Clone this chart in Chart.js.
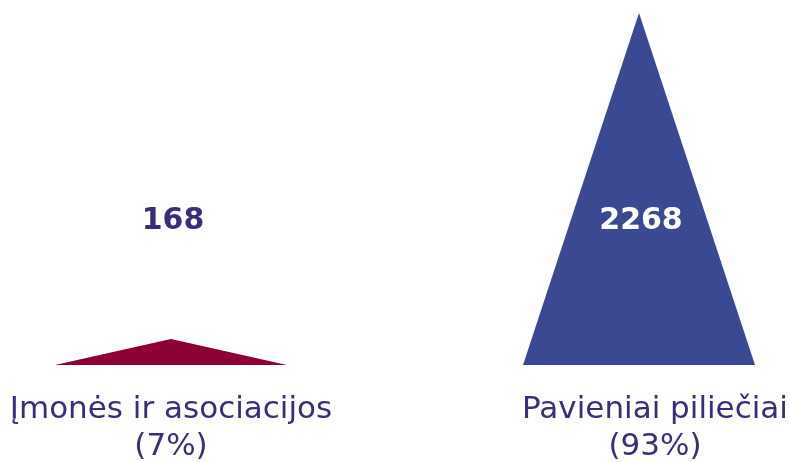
<!DOCTYPE html>
<html>
<head>
<meta charset="utf-8">
<script src="https://cdn.jsdelivr.net/npm/chart.js@4/dist/chart.umd.min.js"></script>
<style>
  html, body { margin: 0; padding: 0; background: #fff; }
  #wrap { width: 790px; height: 462px; }
</style>
</head>
<body>
<div id="wrap"><canvas id="pyramid"></canvas></div>
<script>
const categories = ['Įmonės ir asociacijos', 'Pavieniai piliečiai']
const shares = ['(7%)', '(93%)']
const counts = [168, 2268]

const fillColors = ['#8c0034', '#3b4993']
const textColor = '#3a2e7c'

// draws every bar as a triangle, using the bar element's own geometry
const triangleBars = {
    id: 'triangleBars',
    afterDatasetsDraw(chart) {
        const ctx = chart.ctx
        const meta = chart.getDatasetMeta(0)
        const area = chart.chartArea
        meta.data.forEach((bar, i) => {
            const half = bar.width / 2
            ctx.save()
            ctx.fillStyle = fillColors[i]
            ctx.beginPath()
            ctx.moveTo(bar.x - half, bar.base)
            ctx.lineTo(bar.x, bar.y)
            ctx.lineTo(bar.x + half, bar.base)
            ctx.closePath()
            ctx.fill()

            // value label
            const labelY = area.top + (area.bottom - area.top) * 0.59
            ctx.font = 'bold 30px "DejaVu Sans"'
            ctx.textAlign = 'center'
            ctx.textBaseline = 'middle'
            ctx.fillStyle = bar.y < labelY ? '#ffffff' : textColor
            ctx.fillText(String(counts[i]), bar.x + 2, labelY + 1)

            // category label, two lines
            const nudge = [0, 16][i]
            ctx.font = '31px "DejaVu Sans"'
            ctx.textBaseline = 'alphabetic'
            ctx.fillStyle = textColor
            ctx.fillText(categories[i], bar.x + nudge, 418)
            ctx.fillText(shares[i], bar.x + nudge, 455)
            ctx.restore()
        })
    }
}

new Chart(document.getElementById('pyramid').getContext('2d'), {
    type: 'bar',
    data: {
        labels: categories,
        datasets: [{
            data: counts,
            backgroundColor: 'rgba(0,0,0,0)',
            borderWidth: 0,
            barThickness: 232,
            clip: false
        }]
    },
    options: {
        responsive: true,
        maintainAspectRatio: false,
        devicePixelRatio: 1,
        animation: false,
        layout: {
            padding: { left: 171, right: 151, top: 13, bottom: 97 }
        },
        plugins: {
            legend: { display: false },
            tooltip: { enabled: false }
        },
        scales: {
            x: { display: false, offset: false },
            y: { display: false, min: 0, max: 2268 }
        }
    },
    plugins: [triangleBars]
})
</script>
</body>
</html>
